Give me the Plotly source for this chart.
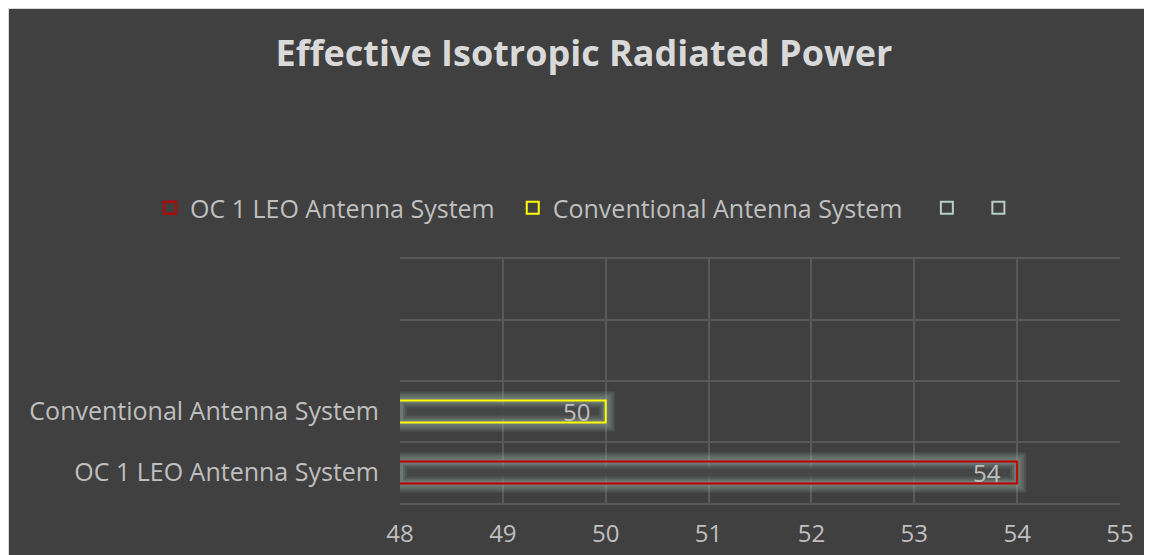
import plotly.graph_objects as go

# ---- data ----
categories = ["OC 1 LEO Antenna System", "Conventional Antenna System", " ", "  "]
series_names = ["OC 1 LEO Antenna System", "Conventional Antenna System", "", ""]
series_values = [54, 50, None, None]
series_colors = ["#c00000", "#ffff00", "#b4cec3", "#b4cec3"]
x_ticks = [48, 49, 50, 51, 52, 53, 54, 55]
title_text = "Effective Isotropic Radiated Power"

BODY = "Open Sans"
TXT = "#bfbfbf"
BG = "#404040"
GRID = "#595959"
BAR_W = 0.36
ROW_PX = 61.0
UNIT_PX = 102.9
W, H = 1144, 547
PL, PT, PW, PH = 392, 251, 720, 244
legend_pad = [2, 3, 1, 2]   # trailing non-breaking spaces (legend spacing)

fig = go.Figure()

# glow layers (outside the bar outline)
for i, v in enumerate(series_values):
    if v is None:
        continue
    cat = categories[i]
    for d in [9, 7, 5, 3]:
        fig.add_trace(go.Bar(
            y=[cat], x=[v + d / UNIT_PX], orientation="h",
            width=BAR_W + 2 * d / ROW_PX,
            marker=dict(color="rgba(155,182,166,0.16)", line=dict(width=0)),
            showlegend=False, hoverinfo="skip"))
    # inner darkening (gradient towards the centre)
    for d, a in [(3, 0.35), (5, 0.45), (7, 0.6)]:
        fig.add_trace(go.Bar(
            y=[cat], x=[v - 48 - 2 * d / UNIT_PX], base=[48 + d / UNIT_PX], orientation="h",
            width=BAR_W - 2 * d / ROW_PX,
            marker=dict(color=f"rgba(64,64,64,{a})", line=dict(width=0)),
            showlegend=False, hoverinfo="skip"))

# outlined bars (legend entries)
for i, name in enumerate(series_names):
    fig.add_trace(go.Bar(
        y=[categories[i]], x=[series_values[i]], orientation="h",
        name=name + "\u00a0" * legend_pad[i], width=BAR_W,
        marker=dict(color="rgba(0,0,0,0)", line=dict(color=series_colors[i], width=2)),
        hoverinfo="skip"))

# value labels
for i, v in enumerate(series_values):
    if v is None:
        continue
    fig.add_annotation(x=v, y=categories[i], xref="x", yref="y", text=str(v),
                       showarrow=False, xanchor="right", xshift=-14,
                       font=dict(family=BODY, size=24, color=TXT))

# chart border (light line on the chart edge)
fig.add_shape(type="rect", xref="paper", yref="paper",
              x0=-PL / PW, x1=(W + 10 - PL) / PW,
              y0=(PT + PH - H - 10) / PH, y1=(PT + PH) / PH,
              fillcolor="rgba(0,0,0,0)", line=dict(color="#d9d9d9", width=2), layer="below")

fig.update_layout(
    width=W, height=H,
    margin=dict(l=PL, r=W - PL - PW, t=PT, b=H - PT - PH, autoexpand=False),
    paper_bgcolor=BG, plot_bgcolor="rgba(0,0,0,0)",
    barmode="overlay",
    title=dict(text=f"<b>{title_text}</b>", x=576 / W, xanchor="center",
               y=1 - 45 / H, yanchor="middle", yref="container",
               font=dict(family="Open Sans", size=36, color="#d9d9d9")),
    legend=dict(orientation="h", x=(142 - PL) / PW, xanchor="left",
                y=(PT + PH - 200) / PH, yanchor="middle",
                font=dict(family=BODY, size=25, color=TXT), bgcolor="rgba(0,0,0,0)",
                traceorder="normal", itemwidth=30),
    font=dict(family=BODY, color=TXT),
    showlegend=True,
)
fig.update_xaxes(range=[48, 55], tickvals=x_ticks, showgrid=True, gridcolor=GRID, gridwidth=1.5,
                 zeroline=False, showline=True, mirror=True, linecolor=GRID, linewidth=1.5,
                 ticks="", ticklabelstandoff=8,
                 tickfont=dict(family=BODY, size=24, color=TXT))
fig.update_yaxes(type="category", categoryorder="array", categoryarray=categories,
                 tickson="boundaries", showgrid=True, gridcolor=GRID, gridwidth=1.5,
                 zeroline=False, showline=False, ticks="", ticklabelstandoff=20,
                 tickfont=dict(family=BODY, size=25, color=TXT))

fig.write_html("out.html", post_script="document.body.style.overflow='hidden';")
